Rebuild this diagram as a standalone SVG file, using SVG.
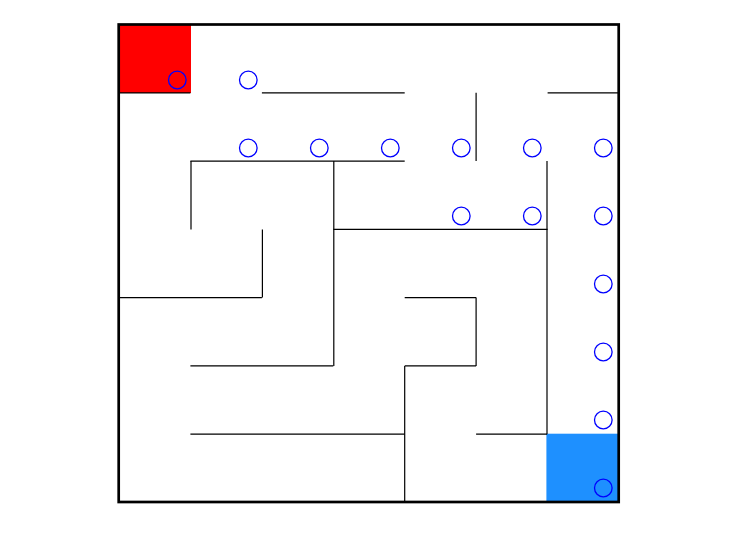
<svg xmlns="http://www.w3.org/2000/svg" width="747" height="535" viewBox="0 0 747 535">
<style>
.w{stroke:#000;stroke-width:1.2;fill:none}
.c{stroke:#0000ff;stroke-width:1.3;fill:none}
</style>
<rect width="747" height="535" fill="#fff"/>
<g id="start"><rect x="119" y="24" width="72" height="69" fill="#ff0000"/></g>
<g id="goal"><rect x="546.4" y="433.7" width="72.6" height="68.3" fill="#1e90ff"/></g>
<g id="walls" class="w">
<path d="M119 92.8H190.4M261.9 92.8H404.7M547.6 92.8H619"/>
<path d="M190.4 161.1H404.7"/>
<path d="M333.3 229.4H547.6"/>
<path d="M119 297.6H261.9M404.7 297.6H476.1"/>
<path d="M190.4 365.9H333.3M404.7 365.9H476.1"/>
<path d="M190.4 434.2H404.7M476.1 434.2H547"/>
<path d="M191 161.1V229.4M262.4 229.4V297.6M333.8 161.1V365.9M404.7 365.9V502M476.1 92.8V161.1M476.1 297.6V365.9M547 161.1V434.2"/>
</g>
<g id="border"><rect x="118.7" y="24.5" width="500" height="477.5" fill="none" stroke="#000" stroke-width="2.7"/></g>
<g id="path" class="c">
<circle cx="177.3" cy="80" r="8.8"/>
<circle cx="248.3" cy="80" r="8.8"/>
<circle cx="248.3" cy="148" r="8.8"/>
<circle cx="319.3" cy="148" r="8.8"/>
<circle cx="390.3" cy="148" r="8.8"/>
<circle cx="461.3" cy="148" r="8.8"/>
<circle cx="532.3" cy="148" r="8.8"/>
<circle cx="603.3" cy="148" r="8.8"/>
<circle cx="461.3" cy="216" r="8.8"/>
<circle cx="532.3" cy="216" r="8.8"/>
<circle cx="603.3" cy="216" r="8.8"/>
<circle cx="603.3" cy="284" r="8.8"/>
<circle cx="603.3" cy="352" r="8.8"/>
<circle cx="603.3" cy="420" r="8.8"/>
<circle cx="603.3" cy="488" r="8.8"/>
</g>
</svg>
